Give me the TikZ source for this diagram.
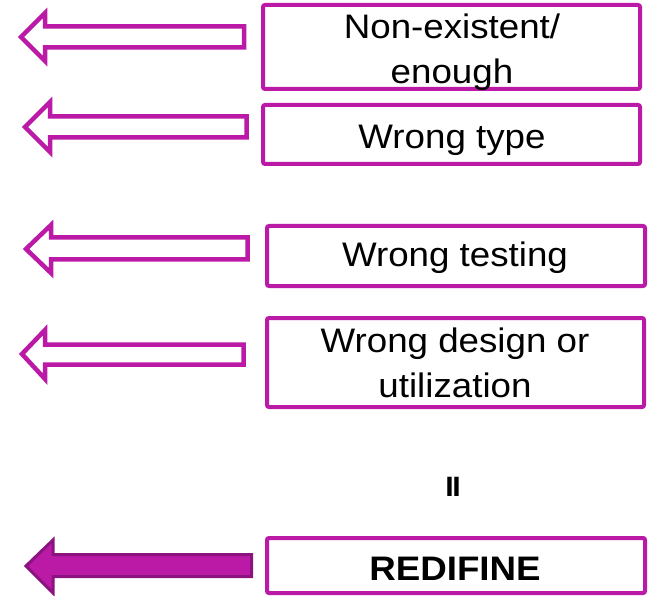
\documentclass[tikz,border=0pt]{standalone}
\usepackage{fontspec}
\setmainfont{Liberation Sans}[FakeStretch=1.08]
\definecolor{mag}{HTML}{BB1AA6}
\definecolor{magdark}{HTML}{8C1280}
\begin{document}
\begin{tikzpicture}[x=1pt,y=-1pt,
  box/.style={draw=mag,line width=4pt,rounded corners=2pt,fill=white},
  lbl/.style={text=black,align=center,inner sep=0pt,font=\fontsize{34}{44.5}\selectfont},
  hollowarrow/.style={draw=mag,line width=4.5pt,line join=miter,fill=white},
  solidarrow/.style={draw=magdark,line width=3pt,line join=miter,fill=mag}]
\useasboundingbox (0,0) rectangle (648,596);
% boxes
\draw[box] (263,5) rectangle (640,89);
\draw[box] (263,105) rectangle (640,164);
\draw[box] (267,226) rectangle (645,286);
\draw[box] (267,318) rectangle (644,407);
\draw[box] (267,538) rectangle (645,593);
% labels
\node[lbl] (t1) at (452,52) {Non-existent/\\enough};
\node[lbl,anchor=base] (t2) at (452,149) {Wrong type};
\node[lbl,anchor=base] (t3) at (455,266) {Wrong testing};
\node[lbl] (t4) at (455,363) {Wrong design or\\utilization};
\node[lbl,anchor=base,font=\fontsize{34}{40}\selectfont\bfseries] (t5) at (455,580) {REDIFINE};
\node[lbl,anchor=base,font=\fontsize{28}{30}\selectfont\bfseries] (eq) at (453,496) {I\kern-1.5ptI};
% arrows
\draw[hollowarrow] (21,37) -- (45,13) -- (45,26.5) -- (244,26.5) -- (244,47.5) -- (45,47.5) -- (45,61) -- cycle;
\draw[hollowarrow] (25,127) -- (50,102) -- (50,116.5) -- (246.5,116.5) -- (246.5,137.5) -- (50,137.5) -- (50,152) -- cycle;
\draw[hollowarrow] (26,249) -- (51,225) -- (51,237.5) -- (247.5,237.5) -- (247.5,259.5) -- (51,259.5) -- (51,273) -- cycle;
\draw[hollowarrow] (22,354) -- (45,330) -- (45,344.5) -- (243.5,344.5) -- (243.5,364.5) -- (45,364.5) -- (45,379) -- cycle;
\draw[solidarrow] (26,566) -- (53,540) -- (53,554.5) -- (251.5,554.5) -- (251.5,576.5) -- (53,576.5) -- (53,593) -- cycle;
\end{tikzpicture}
\end{document}
